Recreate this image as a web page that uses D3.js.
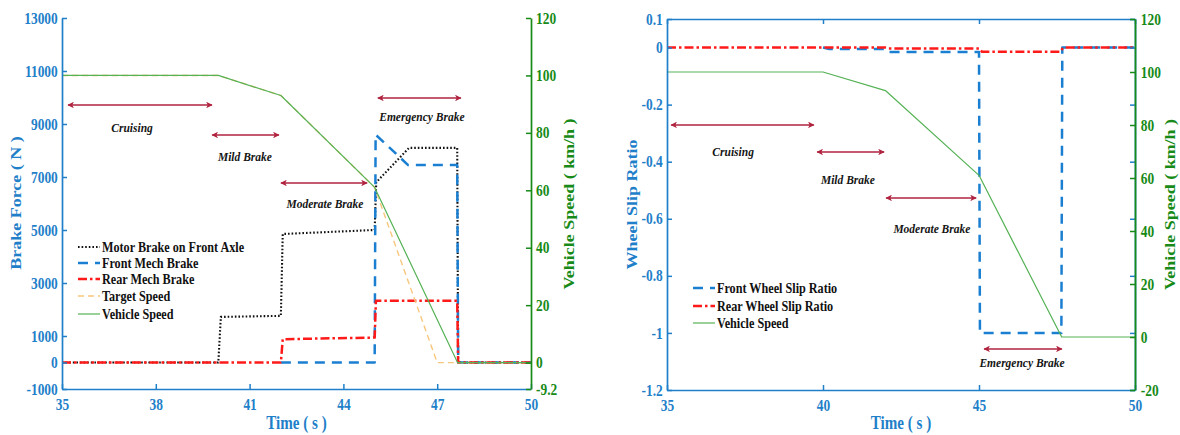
<!DOCTYPE html>
<html>
<head>
<meta charset="utf-8">
<script src="https://cdn.jsdelivr.net/npm/d3@7"></script>
<style>
  body { margin: 0; background: #fff; }
  svg { display: block; }
</style>
</head>
<body>
<svg id="fig" width="1180" height="435"></svg>
<script>
// ---------------- data ----------------
const timeTicksForce = [35, 38, 41, 44, 47, 50];
const timeTicksSlip = [35, 40, 45, 50];
const forceTicks = [-1000, 0, 1000, 3000, 5000, 7000, 9000, 11000, 13000];
const speedTicksForce = [-9.2, 0, 20, 40, 60, 80, 100, 120];
const slipTicks = [-1.2, -1, -0.8, -0.6, -0.4, -0.2, 0, 0.1];
const speedTicksSlip = [-20, 0, 20, 40, 60, 80, 100, 120];

// [time (s), force (N)]
const motorBrake = [[35, 0], [40, 0], [40.08, 1720], [42, 1760], [42.06, 4850], [45, 5000],
  [45.05, 6800], [46.1, 8100], [47.64, 8100], [47.67, 0], [50, 0]];
const frontMechBrake = [[42, 0], [45, 0], [45.03, 8600], [46.07, 7450], [47.64, 7450], [47.67, 0], [50, 0]];
const rearMechBrake = [[35, 0], [42, 0], [42.06, 880], [45, 940], [45.04, 2330], [47.64, 2330], [47.67, 0], [50, 0]];
// [time (s), speed (km/h)]
const targetSpeed = [[35, 100], [40, 100], [42, 93], [45, 61], [47, 0], [50, 0]];
const vehicleSpeed = [[35, 100], [40, 100], [42, 93], [45, 61], [47.65, 0], [50, 0]];
// [time (s), slip ratio]
const frontSlip = [[40, 0], [40.2, -0.005], [42, -0.005], [42.1, -0.016], [45, -0.016],
  [45.03, -1.0], [47.64, -1.0], [47.67, 0], [50, 0]];
const rearSlip = [[35, 0], [42, 0], [42.1, -0.003], [45, -0.003], [45.1, -0.015], [47.6, -0.015], [47.7, 0], [50, 0]];

// driving phases: arrow span [t0, t1], arrow level, label anchor [t, level]
const phaseNames = ["Cruising", "Mild Brake", "Moderate Brake", "Emergency Brake"];
const forcePhaseSpans = [[35.16, 39.83], [39.77, 41.97], [41.97, 44.79], [45.07, 47.79]];
const forcePhaseLevels = [9717, 8585, 6774, 9981];
const forcePhaseLabels = [[37.24, 8849], [40.85, 7755], [43.41, 5981], [46.51, 9264]];
const slipPhaseSpans = [[35.1, 39.74], [39.78, 41.99], [41.99, 44.94], [45.13, 47.69]];
const slipPhaseLevels = [-0.271, -0.366, -0.527, -1.056];
const slipPhaseLabels = [[37.12, -0.366], [40.8, -0.464], [43.49, -0.636], [46.38, -1.105]];

const forceLegend = ["Motor Brake on Front Axle", "Front Mech Brake", "Rear Mech Brake", "Target Speed", "Vehicle Speed"];
const slipLegend = ["Front Wheel Slip Ratio", "Rear Wheel Slip Ratio", "Vehicle Speed"];

// ---------------- styles ----------------
const BLUE = "#1f7fc9";
const GREEN = "#178a17";
const ARROW = "#b0233f";
const SERIF = "'Liberation Serif', 'Times New Roman', serif";
const SQ = 0.84; // horizontal condensing of the figure lettering

const styles = {
  motor:   { stroke: "#111111", width: 2.1, dash: "1.6,2.0" },
  front:   { stroke: "#1b7fd1", width: 2.5, dash: "10,7" },
  rear:    { stroke: "#ff1a1a", width: 2.5, dash: "9,3,2.5,3" },
  target:  { stroke: "#f7c77e", width: 1.4, dash: "6,4" },
  vehicle: { stroke: "#55b255", width: 1.2, dash: null }
};

const svg = d3.select("#fig");

// arrow heads
const defs = svg.append("defs");
defs.append("marker")
  .attr("id", "head")
  .attr("viewBox", "0 0 10 10")
  .attr("refX", 9).attr("refY", 5)
  .attr("markerWidth", 8).attr("markerHeight", 6.5)
  .attr("markerUnits", "userSpaceOnUse")
  .attr("orient", "auto-start-reverse")
  .append("path")
  .attr("d", "M0,0 L10,5 L0,10 L2.5,5 Z")
  .attr("fill", ARROW);

function styleAxis(g, color, showText) {
  g.select(".domain").attr("stroke", color).attr("stroke-width", 1.7);
  g.selectAll(".tick line").attr("stroke", color).attr("stroke-width", 1.5);
  const t = g.selectAll(".tick text");
  if (!showText) { t.remove(); return; }
  t.attr("fill", color)
    .style("font", `bold 16px ${SERIF}`)
    .attr("transform", `scale(${SQ},1)`);
}

function title(g, text, x, y, color, rotate) {
  g.append("text")
    .attr("transform", `translate(${x},${y}) scale(${SQ},1)` + (rotate ? " rotate(-90)" : ""))
    .attr("text-anchor", "middle")
    .attr("fill", color)
    .style("font", `bold 18px ${SERIF}`)
    .text(text);
}

function drawSeries(g, data, x, y, st) {
  const line = d3.line().x(d => x(d[0])).y(d => y(d[1]));
  g.append("path")
    .datum(data)
    .attr("d", line)
    .attr("fill", "none")
    .attr("stroke", st.stroke)
    .attr("stroke-width", st.width)
    .attr("stroke-dasharray", st.dash)
    .attr("stroke-linejoin", "round");
}

function drawPhases(g, x, y, spans, levels, labels) {
  spans.forEach((s, i) => {
    g.append("line")
      .attr("x1", x(s[0]) + 1).attr("x2", x(s[1]) - 1)
      .attr("y1", y(levels[i])).attr("y2", y(levels[i]))
      .attr("stroke", ARROW).attr("stroke-width", 1.5)
      .attr("marker-start", "url(#head)")
      .attr("marker-end", "url(#head)");
    g.append("text")
      .attr("x", x(labels[i][0])).attr("y", y(labels[i][1]))
      .attr("dy", "0.35em")
      .attr("text-anchor", "middle")
      .attr("fill", "#151515")
      .style("font", `italic bold 11.5px ${SERIF}`)
      .text(phaseNames[i]);
  });
}

function drawLegend(g, names, keys, x0, rows) {
  names.forEach((name, i) => {
    const st = styles[keys[i]];
    g.append("line")
      .attr("x1", x0).attr("x2", x0 + 22)
      .attr("y1", rows[i]).attr("y2", rows[i])
      .attr("stroke", st.stroke)
      .attr("stroke-width", st.width)
      .attr("stroke-dasharray", st.dash);
    g.append("text")
      .attr("transform", `translate(${x0 + 24},${rows[i]}) scale(${SQ},1)`)
      .attr("dy", "0.35em")
      .attr("fill", "#111")
      .style("font", `bold 14.5px ${SERIF}`)
      .text(name);
  });
}

// ---------------- left panel: brake forces ----------------
{
  const g = svg.append("g");
  const x = d3.scaleLinear().domain([35, 50]).range([62, 531]);
  const yF = d3.scaleLinear().domain([-1000, 13000]).range([389, 18]);
  const yS = d3.scaleLinear().domain([-9.2, 120]).range([389, 18]);

  drawSeries(g, motorBrake, x, yF, styles.motor);
  drawSeries(g, frontMechBrake, x, yF, styles.front);
  drawSeries(g, rearMechBrake, x, yF, styles.rear);
  drawSeries(g, targetSpeed, x, yS, styles.target);
  drawSeries(g, vehicleSpeed, x, yS, styles.vehicle);

  g.append("g").attr("transform", "translate(0,389)")
    .call(d3.axisBottom(x).tickValues(timeTicksForce).tickFormat(d => String(d))
      .tickSizeInner(-5).tickSizeOuter(0).tickPadding(10))
    .call(a => styleAxis(a, BLUE, true));
  g.append("g").attr("transform", "translate(62,0)")
    .call(d3.axisLeft(yF).tickValues(forceTicks).tickFormat(d => String(d))
      .tickSizeInner(-5).tickSizeOuter(0).tickPadding(5))
    .call(a => styleAxis(a, BLUE, true));
  g.append("g").attr("transform", "translate(531,0)")
    .call(d3.axisRight(yS).tickValues(speedTicksForce).tickFormat(d => String(d))
      .tickSizeInner(-5).tickSizeOuter(0).tickPadding(6))
    .call(a => styleAxis(a, GREEN, true));

  title(g, "Brake Force ( N )", 21, 203, BLUE, true);
  title(g, "Vehicle Speed ( km/h )", 574, 204, GREEN, true);
  title(g, "Time ( s )", 296.5, 429, BLUE, false);

  drawPhases(g, x, yF, forcePhaseSpans, forcePhaseLevels, forcePhaseLabels);
  drawLegend(g, forceLegend, ["motor", "front", "rear", "target", "vehicle"], 78, [247, 263, 279, 296, 314]);
}

// ---------------- right panel: wheel slip ----------------
{
  const g = svg.append("g");
  const x = d3.scaleLinear().domain([35, 50]).range([667, 1135]);
  const yR = d3.scaleLinear().domain([-1.2, 0.1]).range([390, 19]);
  const yS = d3.scaleLinear().domain([-20, 120]).range([390, 19]);

  drawSeries(g, frontSlip, x, yR, styles.front);
  drawSeries(g, rearSlip, x, yR, styles.rear);
  drawSeries(g, vehicleSpeed, x, yS, styles.vehicle);

  // box edges carrying mirrored ticks
  g.append("g").attr("transform", "translate(0,19)")
    .call(d3.axisTop(x).tickValues(timeTicksSlip).tickSizeInner(-5).tickSizeOuter(0))
    .call(a => styleAxis(a, BLUE, false));
  g.append("g").attr("transform", "translate(1135,0)")
    .call(d3.axisRight(yR).tickValues(slipTicks).tickSizeInner(-5).tickSizeOuter(0))
    .call(a => styleAxis(a, BLUE, false));

  g.append("g").attr("transform", "translate(0,390)")
    .call(d3.axisBottom(x).tickValues(timeTicksSlip).tickFormat(d => String(d))
      .tickSizeInner(-5).tickSizeOuter(0).tickPadding(10))
    .call(a => styleAxis(a, BLUE, true));
  g.append("g").attr("transform", "translate(667,0)")
    .call(d3.axisLeft(yR).tickValues(slipTicks).tickFormat(d => String(d))
      .tickSizeInner(-5).tickSizeOuter(0).tickPadding(5))
    .call(a => styleAxis(a, BLUE, true));
  g.append("g").attr("transform", "translate(1135,0)")
    .call(d3.axisRight(yS).tickValues(speedTicksSlip).tickFormat(d => String(d))
      .tickSizeInner(-5).tickSizeOuter(0).tickPadding(7))
    .call(a => styleAxis(a, GREEN, true));

  title(g, "Wheel Slip Ratio", 637, 204.5, BLUE, true);
  title(g, "Vehicle Speed ( km/h )", 1175, 204.5, GREEN, true);
  title(g, "Time ( s )", 901, 429, BLUE, false);

  drawPhases(g, x, yR, slipPhaseSpans, slipPhaseLevels, slipPhaseLabels);
  drawLegend(g, slipLegend, ["front", "rear", "vehicle"], 693, [288, 306, 323]);
}
</script>
</body>
</html>
